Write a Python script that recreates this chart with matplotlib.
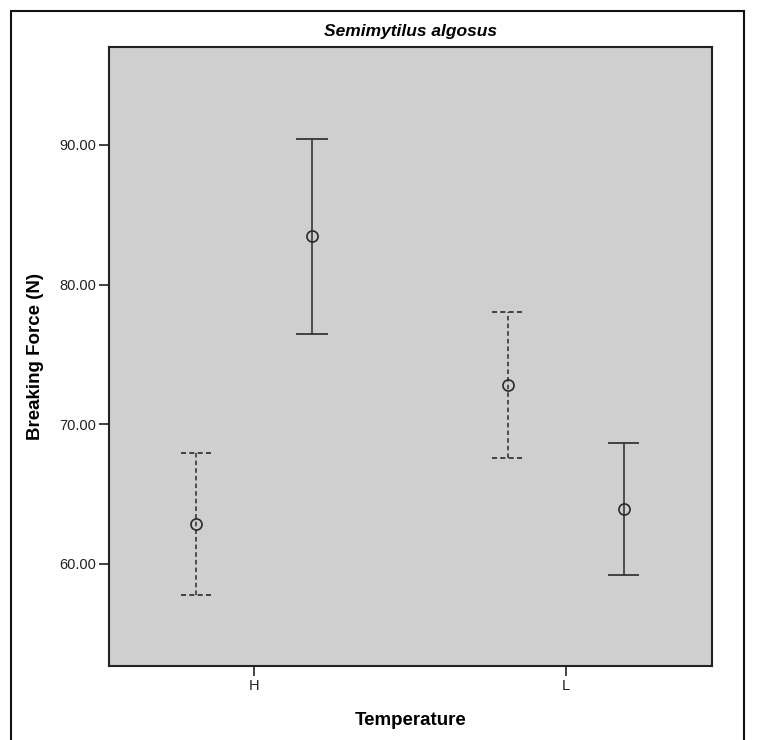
import matplotlib.pyplot as plt
import matplotlib.patches as mpatches
import numpy as np

plt.rcParams['font.family'] = ['Liberation Sans', 'DejaVu Sans']

temps = ['H', 'L']
# group drawn with dashed bars, group drawn with solid bars
dashed_mean = np.array([62.87, 72.82])
dashed_err = np.array([5.08, 5.25])
solid_mean = np.array([83.45, 63.94])
solid_err = np.array([7.0, 4.7])
yticks = [60, 70, 80, 90]

fig = plt.figure(figsize=(7.57, 7.40), dpi=100)
ax = fig.add_axes([0.144, 0.1, 0.7966, 0.8365])
ax.set_facecolor('#cfcfcf')

x = np.arange(len(temps))
off = 0.186
cap = 0.05
col = '#2a2a2a'

def draw_group(xs, m, e, ls):
    ax.vlines(xs, m - e, m + e, colors=col, linestyles=ls, linewidth=1.1)
    ax.hlines(m - e, xs - cap, xs + cap, colors=col, linestyles=ls, linewidth=1.2)
    ax.hlines(m + e, xs - cap, xs + cap, colors=col, linestyles=ls, linewidth=1.2)
    ax.plot(xs, m, 'o', ms=8, mfc='none', mec=col, mew=1.2, ls='none')

draw_group(x - off, dashed_mean, dashed_err, (0, (3, 2)))
draw_group(x + off, solid_mean, solid_err, '-')

ax.set_xlim(-0.4655, 1.47)
ax.set_ylim(52.7, 97.0)
ax.set_xticks(x)
ax.set_xticklabels(temps)
ax.set_yticks(yticks)
ax.set_yticklabels([f'{v:.2f}' for v in yticks])
ax.tick_params(direction='out', length=7, width=1.2, labelsize=10.5, pad=2,
               colors='#222222')
for s in ax.spines.values():
    s.set_linewidth(1.5)
    s.set_color('#222222')

ax.set_ylabel('Breaking Force (N)', fontsize=13.5, fontweight='bold', labelpad=11)
ax.set_xlabel('Temperature', fontsize=13.5, fontweight='bold', labelpad=14)
ax.set_title('Semimytilus algosus', fontsize=12.5, fontweight='bold',
             fontstyle='italic', pad=8)

# outer frame around whole chart
frame = mpatches.Rectangle((11 / 757, -0.05), (744 - 11) / 757, 1.05 - 11 / 740,
                           transform=fig.transFigure, fill=False,
                           edgecolor='#111111', linewidth=1.5, clip_on=False)
fig.patches.append(frame)

fig.savefig('out.png', dpi=100)
